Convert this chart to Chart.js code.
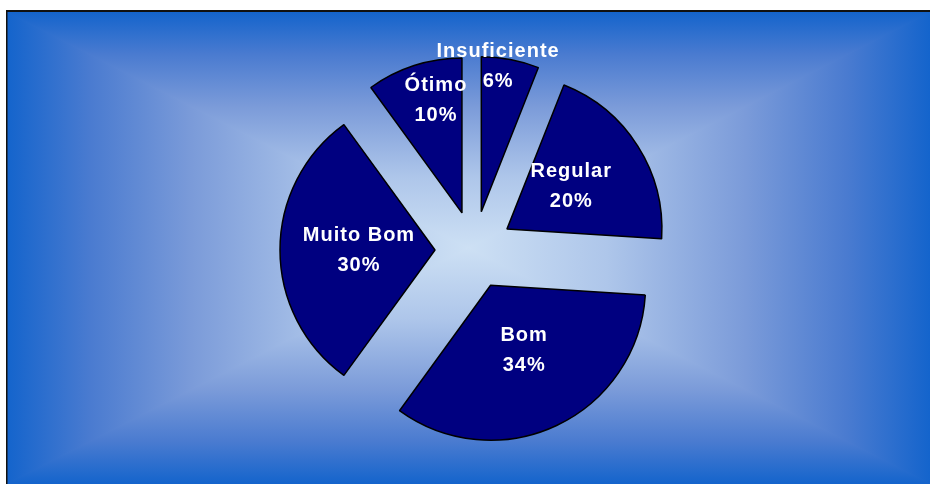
<!DOCTYPE html>
<html>
<head>
<meta charset="utf-8">
<script src="https://cdn.jsdelivr.net/npm/chart.js@4/dist/chart.umd.min.js"></script>
<style>
  html, body { margin: 0; padding: 0; background: #fff; }
  canvas { display: block; }
</style>
</head>
<body>
<canvas id="myChart" width="930" height="484"></canvas>
<script>
// dados da pizza (sentido horário a partir do topo)
var categorias = ['Insuficiente', 'Regular', 'Bom', 'Muito Bom', 'Ótimo'];
var percentuais = [6, 20, 34, 30, 10];

// deslocamento de cada fatia (px), distância do rótulo ao centro e ajuste de ângulo (graus)
var explosao = [39, 39, 39, 39, 39];
var raioRotulo = [184.6, 116, 112, 115, 154];
var ajusteAngulo = [-3.3, -0.6, -1.4, 0, 3.7];

// fundo em gradiente retangular (claro no centro, azul nas bordas)
var fundoPlugin = {
    id: 'fundo',
    beforeDraw: function(chart) {
        var ctx = chart.ctx;
        var L = 7, T = 12, R = chart.width, B = chart.height;
        var cx = (L + R) / 2, cy = (T + B) / 2;
        var stops = [[0, '#cde0f4'], [0.3, '#aec6ea'], [0.6, '#7b9bd9'], [0.82, '#4a7bd0'], [1, '#1464cc']];

        function tri(pts, x0, y0, x1, y1) {
            var g = ctx.createLinearGradient(x0, y0, x1, y1);
            stops.forEach(function(s) { g.addColorStop(1 - s[0], s[1]); });
            ctx.beginPath();
            ctx.moveTo(pts[0][0], pts[0][1]);
            ctx.lineTo(pts[1][0], pts[1][1]);
            ctx.lineTo(pts[2][0], pts[2][1]);
            ctx.closePath();
            ctx.fillStyle = g;
            ctx.strokeStyle = g;
            ctx.lineWidth = 1.5;
            ctx.fill();
            ctx.stroke();
        }

        ctx.save();
        ctx.fillStyle = '#fff';
        ctx.fillRect(0, 0, chart.width, chart.height);
        ctx.beginPath();
        ctx.rect(L, T, R - L, B - T);
        ctx.clip();
        tri([[L, T], [L, B], [cx, cy]], L, 0, cx, 0);
        tri([[R, T], [R, B], [cx, cy]], R, 0, cx, 0);
        tri([[L, T], [R, T], [cx, cy]], 0, T, 0, cy);
        tri([[L, B], [R, B], [cx, cy]], 0, B, 0, cy);
        ctx.restore();

        // moldura preta (topo e esquerda)
        ctx.save();
        ctx.fillStyle = '#111';
        ctx.fillRect(6, 10, chart.width - 6, 2);
        ctx.fillRect(6, 10, 1.5, chart.height - 10);
        ctx.restore();
    }
};

// afasta cada fatia do centro ao longo do seu ângulo médio
var explodirPlugin = {
    id: 'explodir',
    afterDatasetUpdate: function(chart, args) {
        var meta = chart.getDatasetMeta(args.index);
        meta.data.forEach(function(arc, i) {
            var meio = (arc.startAngle + arc.endAngle) / 2;
            arc.baseX = arc.x;
            arc.baseY = arc.y;
            arc.x = arc.baseX + Math.cos(meio) * explosao[i];
            arc.y = arc.baseY + Math.sin(meio) * explosao[i];
        });
    }
};

// rótulos brancos: nome + percentual
var rotulosPlugin = {
    id: 'rotulos',
    afterDatasetsDraw: function(chart) {
        var ctx = chart.ctx;
        var meta = chart.getDatasetMeta(0);
        ctx.save();
        ctx.fillStyle = '#ffffff';
        ctx.font = 'bold 20px "Liberation Sans", Arial, sans-serif';
        if ('letterSpacing' in ctx) ctx.letterSpacing = '1px';
        ctx.textAlign = 'center';
        ctx.textBaseline = 'middle';
        meta.data.forEach(function(arc, i) {
            var meio = (arc.startAngle + arc.endAngle) / 2 + ajusteAngulo[i] * Math.PI / 180;
            var x = arc.baseX + Math.cos(meio) * raioRotulo[i];
            var y = arc.baseY + Math.sin(meio) * raioRotulo[i];
            ctx.fillText(categorias[i], x, y - 15);
            ctx.fillText(percentuais[i] + '%', x, y + 15);
        });
        ctx.restore();
    }
};

var ctx = document.getElementById('myChart').getContext('2d');

new Chart(ctx, {
    type: 'pie',
    data: {
        labels: categorias,
        datasets: [{
            data: percentuais,
            backgroundColor: '#000080',
            borderColor: '#000000',
            borderWidth: 1.5
        }]
    },
    options: {
        responsive: false,
        animation: false,
        events: [],
        radius: 155,
        layout: { padding: { left: 18, top: 16, right: 0, bottom: 0 } },
        plugins: {
            legend: { display: false },
            tooltip: { enabled: false }
        }
    },
    plugins: [fundoPlugin, explodirPlugin, rotulosPlugin]
});
</script>
</body>
</html>
